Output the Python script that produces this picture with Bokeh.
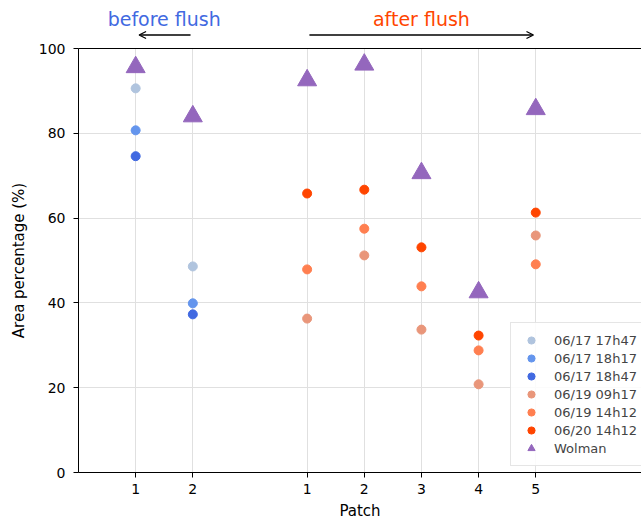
from bokeh.plotting import figure
from bokeh.layouts import column
from bokeh.models import Arrow, OpenHead, FixedTicker, LinearAxis, Range1d
from bokeh.core.properties import value
from bokeh.embed import file_html
from bokeh.resources import INLINE

# --- data -------------------------------------------------------------
positions = [1, 2, 4, 5, 6, 7, 8]
tick_labels = ["1", "2", "1", "2", "3", "4", "5"]
before_pos = [1, 2]
after_pos = [4, 5, 6, 7, 8]

s_0617_1747 = [90.6, 48.6]
s_0617_1817 = [80.7, 39.9]
s_0617_1847 = [74.6, 37.3]
s_0619_0917 = [36.3, 51.2, 33.7, 20.8, 55.9]
s_0619_1412 = [47.9, 57.5, 43.9, 28.8, 49.1]
s_0620_1412 = [65.8, 66.7, 53.1, 32.3, 61.3]
wolman = [95.6, 84.0, 92.5, 96.2, 70.6, 42.5, 85.7]

series = [
    ("06/17 17h47", before_pos, s_0617_1747, "#b0c4de"),
    ("06/17 18h17", before_pos, s_0617_1817, "#6495ed"),
    ("06/17 18h47", before_pos, s_0617_1847, "#4169e1"),
    ("06/19 09h17", after_pos, s_0619_0917, "#e9967a"),
    ("06/19 14h12", after_pos, s_0619_1412, "#ff7f50"),
    ("06/20 14h12", after_pos, s_0620_1412, "#ff4500"),
]

FONT = "DejaVu Sans"
xr = Range1d(0, 9.85)

# --- header strip with the "before/after flush" annotations ----------
TOP_H = 40
top = figure(width=641, height=TOP_H, output_backend="svg", toolbar_location=None,
             x_range=xr, y_range=Range1d(0, TOP_H),
             x_axis_location=None, y_axis_location=None,
             min_border_left=78, min_border_right=0, min_border_top=0,
             min_border_bottom=0)
top.outline_line_color = None
top.xgrid.visible = False
top.ygrid.visible = False
top.text(x=[1.5], y=[22], text=["before flush"], text_align="center",
         text_baseline="alphabetic", text_color="#4169e1",
         text_font=value(FONT), text_font_size="19px")
top.text(x=[6.0], y=[22], text=["after flush"], text_align="center",
         text_baseline="alphabetic", text_color="#ff4500",
         text_font=value(FONT), text_font_size="19px")
top.add_layout(Arrow(end=OpenHead(size=7, line_width=1.3, line_color="black"),
                     x_start=1.96, y_start=5.5, x_end=1.06, y_end=5.5,
                     line_width=1.3, line_color="black"))
top.add_layout(Arrow(end=OpenHead(size=7, line_width=1.3, line_color="black"),
                     x_start=4.04, y_start=5.5, x_end=7.96, y_end=5.5,
                     line_width=1.3, line_color="black"))

# --- main chart -------------------------------------------------------
p = figure(width=641, height=522 - TOP_H, output_backend="svg", toolbar_location=None,
           x_range=xr, y_range=Range1d(0, 100),
           min_border_left=78, min_border_right=0, min_border_top=8,
           min_border_bottom=50)
p.outline_line_color = None
p.background_fill_color = "white"

p.xgrid.ticker = FixedTicker(ticks=positions)
p.ygrid.ticker = FixedTicker(ticks=[0, 20, 40, 60, 80, 100])
for g in (p.xgrid[0], p.ygrid[0]):
    g.grid_line_color = "#e0e0e0"
    g.grid_line_width = 1

xa = p.xaxis[0]
xa.ticker = FixedTicker(ticks=positions)
xa.major_label_overrides = {pos: lab for pos, lab in zip(positions, tick_labels)}
xa.axis_label = "Patch"
ya = p.yaxis[0]
ya.ticker = FixedTicker(ticks=[0, 20, 40, 60, 80, 100])
ya.axis_label = "Area percentage (%)"
for ax in (xa, ya):
    ax.axis_line_color = "black"
    ax.axis_line_width = 1
    ax.major_tick_line_color = "black"
    ax.major_tick_out = 5
    ax.major_tick_in = 0
    ax.minor_tick_line_color = None
    ax.major_label_text_font = FONT
    ax.major_label_text_font_size = "14px"
    ax.major_label_text_color = "black"
    ax.axis_label_text_font = FONT
    ax.axis_label_text_font_size = "15px"
    ax.axis_label_text_font_style = "normal"
    ax.axis_label_text_color = "black"
xa.major_label_standoff = 6
xa.axis_label_standoff = 5
ya.major_label_standoff = 8
ya.axis_label_standoff = 8

top_spine = LinearAxis(ticker=FixedTicker(ticks=[]), axis_line_color="black",
                       major_tick_line_color=None, minor_tick_line_color=None,
                       major_tick_out=0, major_tick_in=0, major_label_standoff=0,
                       major_label_text_font_size="0px")
p.add_layout(top_spine, "above")

for name, xs, ys, col in series:
    p.scatter(xs, ys, size=9, marker="circle", fill_color=col, line_color=col,
              legend_label=name)
p.scatter(positions, wolman, size=19, marker="triangle", fill_color="#9467bd",
          line_color="#9467bd", legend_label="Wolman")

lg = p.legend[0]
lg.location = (432, 6)
lg.label_text_font = FONT
lg.label_text_font_size = "13px"
lg.glyph_width = 24
lg.glyph_height = 18
lg.label_height = 18
lg.spacing = 0
lg.padding = 8
lg.label_standoff = 11
lg.margin = 0
lg.border_line_color = "#cccccc"
lg.border_line_width = 1
lg.background_fill_alpha = 0.85

layout = column(top, p, spacing=0)
open("out.html", "w").write(file_html(layout, INLINE))
